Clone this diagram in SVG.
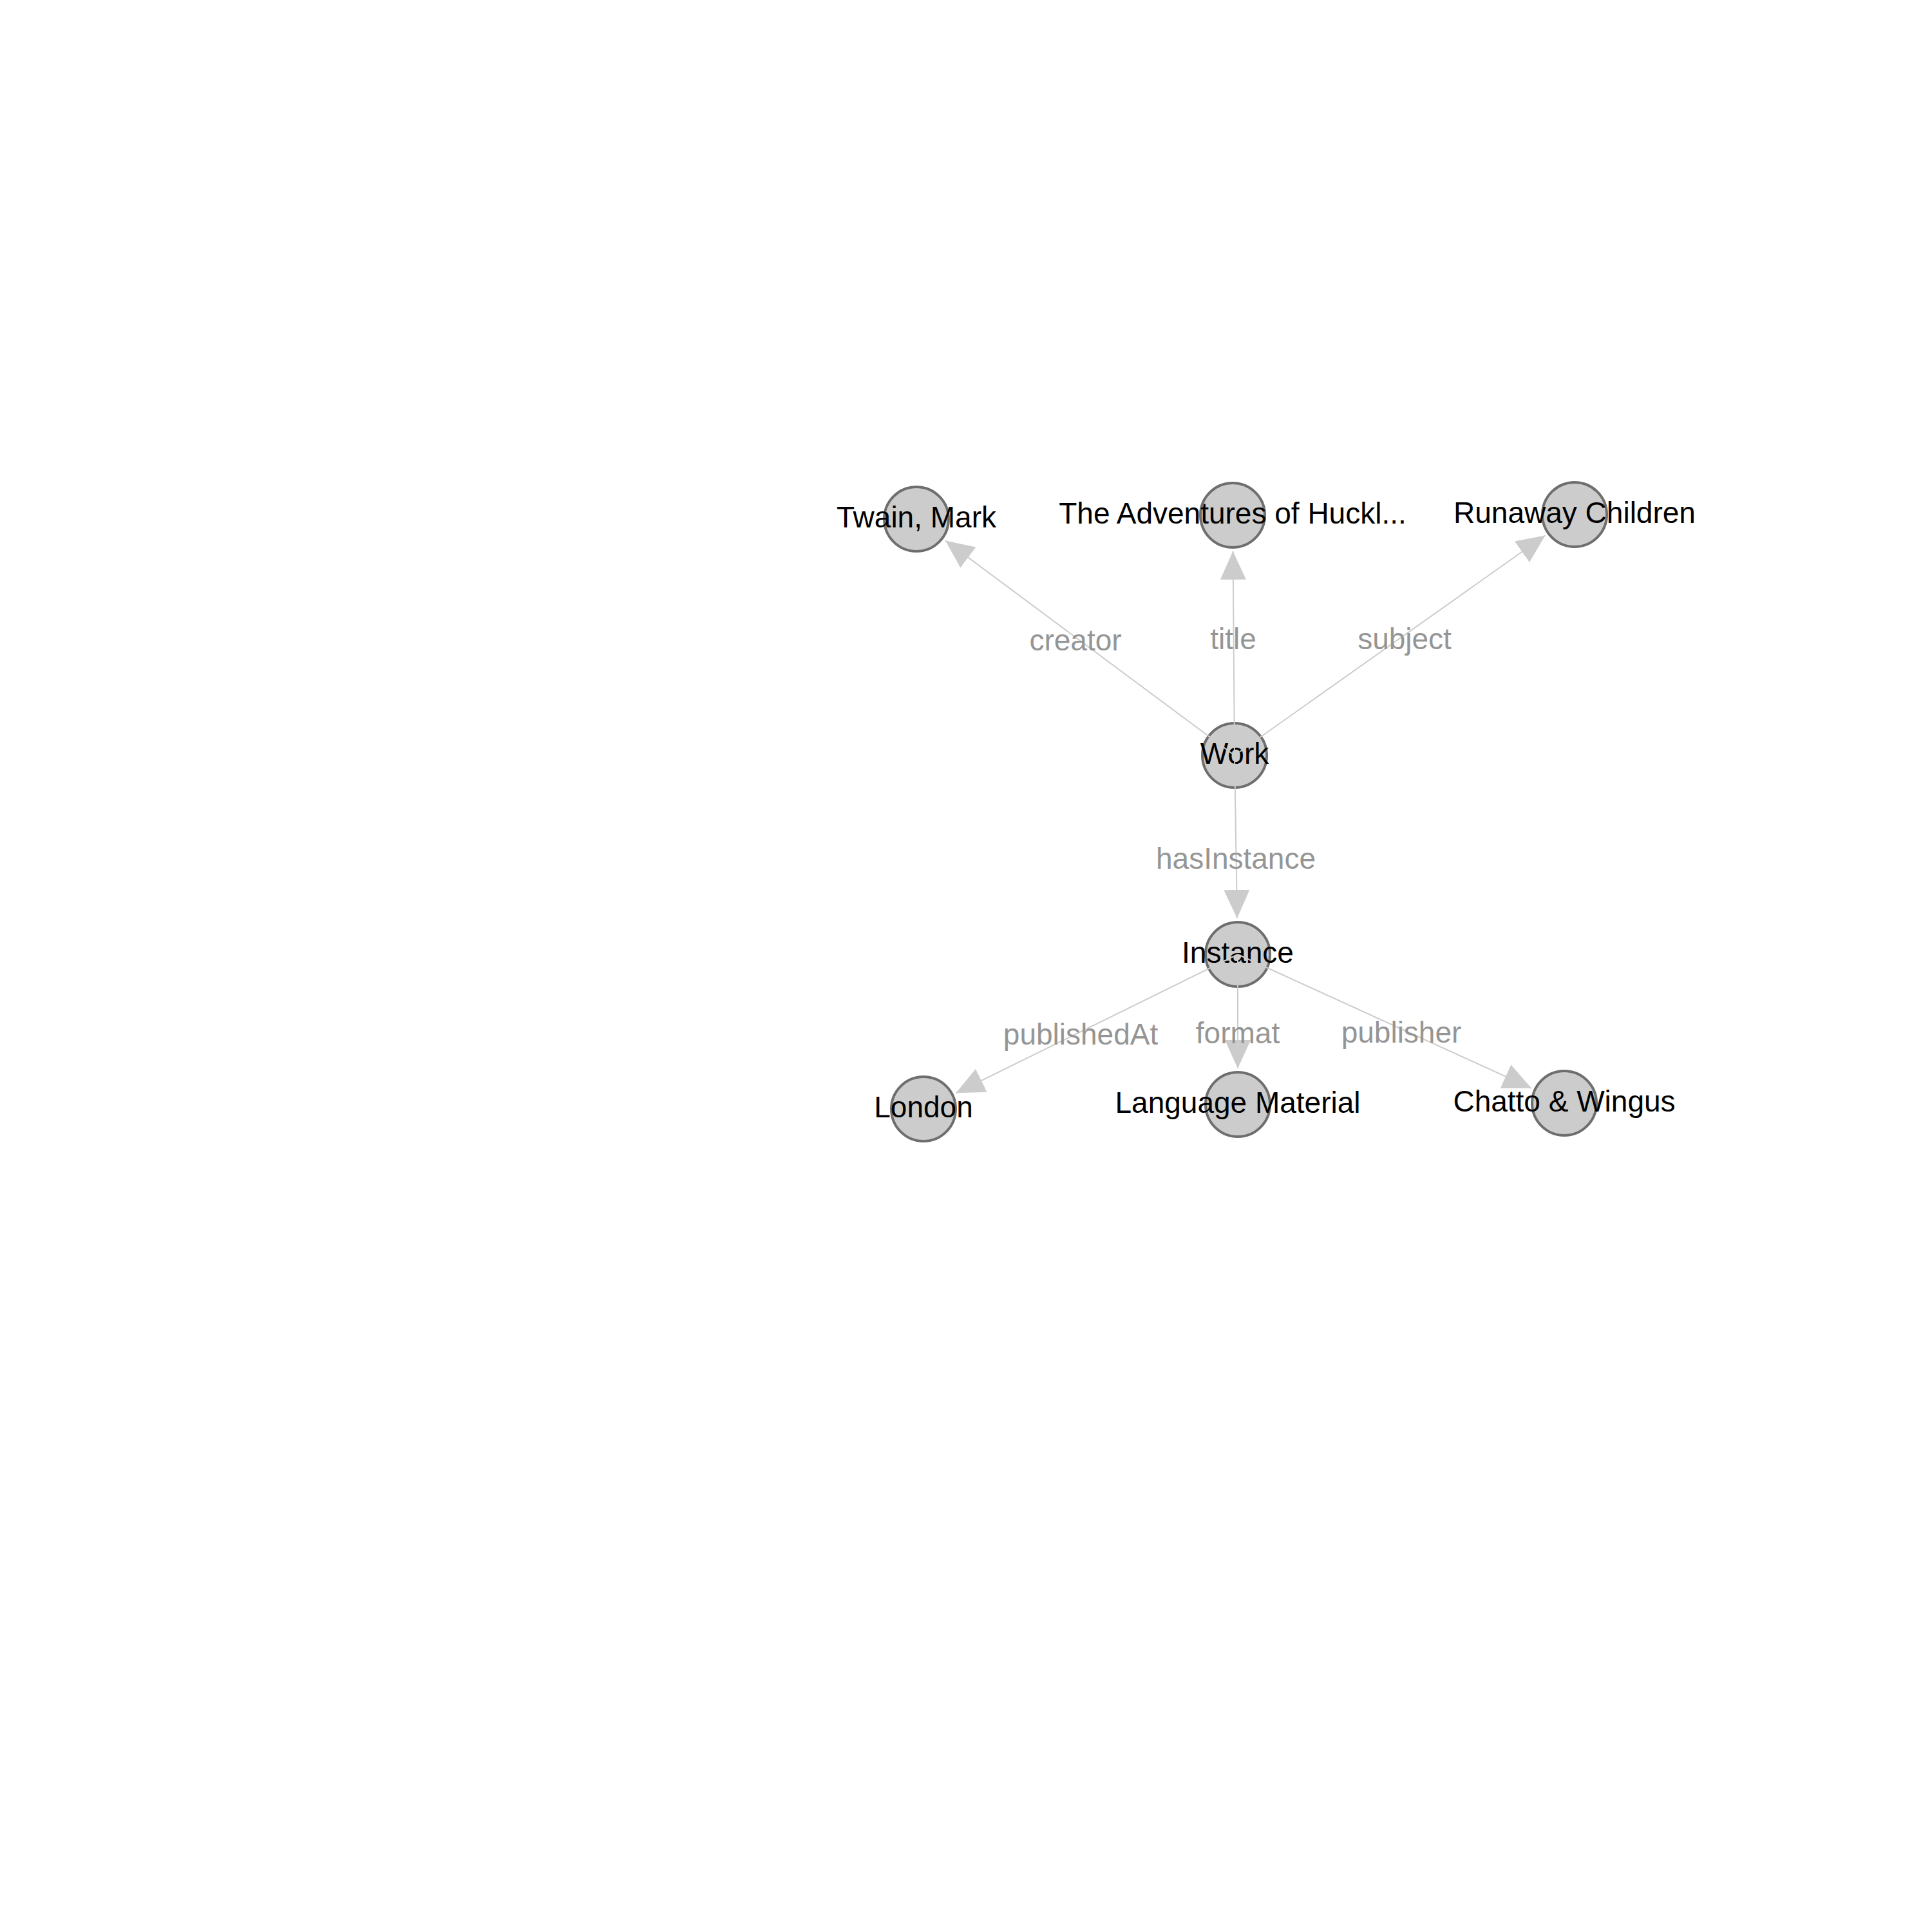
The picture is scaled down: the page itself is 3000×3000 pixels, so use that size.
<svg xmlns="http://www.w3.org/2000/svg" width="3000" height="3000" viewBox="0 0 3000 3000">
<style>
.node circle{fill:#cccccc;stroke:#6e6e6e;stroke-width:4}
.node text{font-family:"Liberation Sans",Arial,sans-serif;font-size:46px;fill:#000;text-anchor:middle}
.edge line{stroke:#cccccc;stroke-width:2;marker-end:url(#arr)}
.elabel{font-family:"Liberation Sans",Arial,sans-serif;font-size:46px;fill:#959595;text-anchor:middle}
</style>
<defs>
<marker id="arr" markerUnits="userSpaceOnUse" markerWidth="44" markerHeight="40" refX="44" refY="20" orient="auto" viewBox="0 0 44 40">
<path d="M0,0 L44,20 L0,40 Z" fill="#cccccc"/>
</marker>
</defs>
<rect width="3000" height="3000" fill="#ffffff"/>
<g id="n-twain" class="node"><circle cx="1423" cy="806" r="50"/><text x="1423" y="819">Twain, Mark</text></g>
<g id="n-title" class="node"><circle cx="1914" cy="800" r="50"/><text x="1914" y="813">The Adventures of Huckl...</text></g>
<g id="n-runaway" class="node"><circle cx="2445" cy="799" r="50"/><text x="2445" y="812">Runaway Children</text></g>
<g id="n-work" class="node"><circle cx="1917" cy="1173" r="50"/><text x="1917" y="1186">Work</text></g>
<g id="n-instance" class="node"><circle cx="1922" cy="1482" r="50"/><text x="1922" y="1495">Instance</text></g>
<g id="n-london" class="node"><circle cx="1434" cy="1722" r="50"/><text x="1434" y="1735">London</text></g>
<g id="n-langmat" class="node"><circle cx="1922" cy="1715" r="50"/><text x="1922" y="1728">Language Material</text></g>
<g id="n-chatto" class="node"><circle cx="2429" cy="1713" r="50"/><text x="2429" y="1726">Chatto &amp; Wingus</text></g>
<g id="connectors" class="edge">
<line x1="1917" y1="1173" x2="1468" y2="839.4"/>
<line x1="1917" y1="1173" x2="1914.5" y2="856"/>
<line x1="1917" y1="1173" x2="2399.3" y2="831.4"/>
<line x1="1917" y1="1173" x2="1921" y2="1426"/>
<line x1="1922" y1="1482" x2="1484.3" y2="1697.3"/>
<line x1="1922" y1="1482" x2="1922" y2="1659"/>
<line x1="1922" y1="1482" x2="2378" y2="1689.8"/>
<text class="elabel" x="1670" y="1010">creator</text>
<text class="elabel" x="1915" y="1008">title</text>
<text class="elabel" x="2181" y="1008">subject</text>
<text class="elabel" x="1919" y="1349">hasInstance</text>
<text class="elabel" x="1678" y="1622">publishedAt</text>
<text class="elabel" x="1922" y="1620">format</text>
<text class="elabel" x="2176" y="1619">publisher</text>
</g>
</svg>
